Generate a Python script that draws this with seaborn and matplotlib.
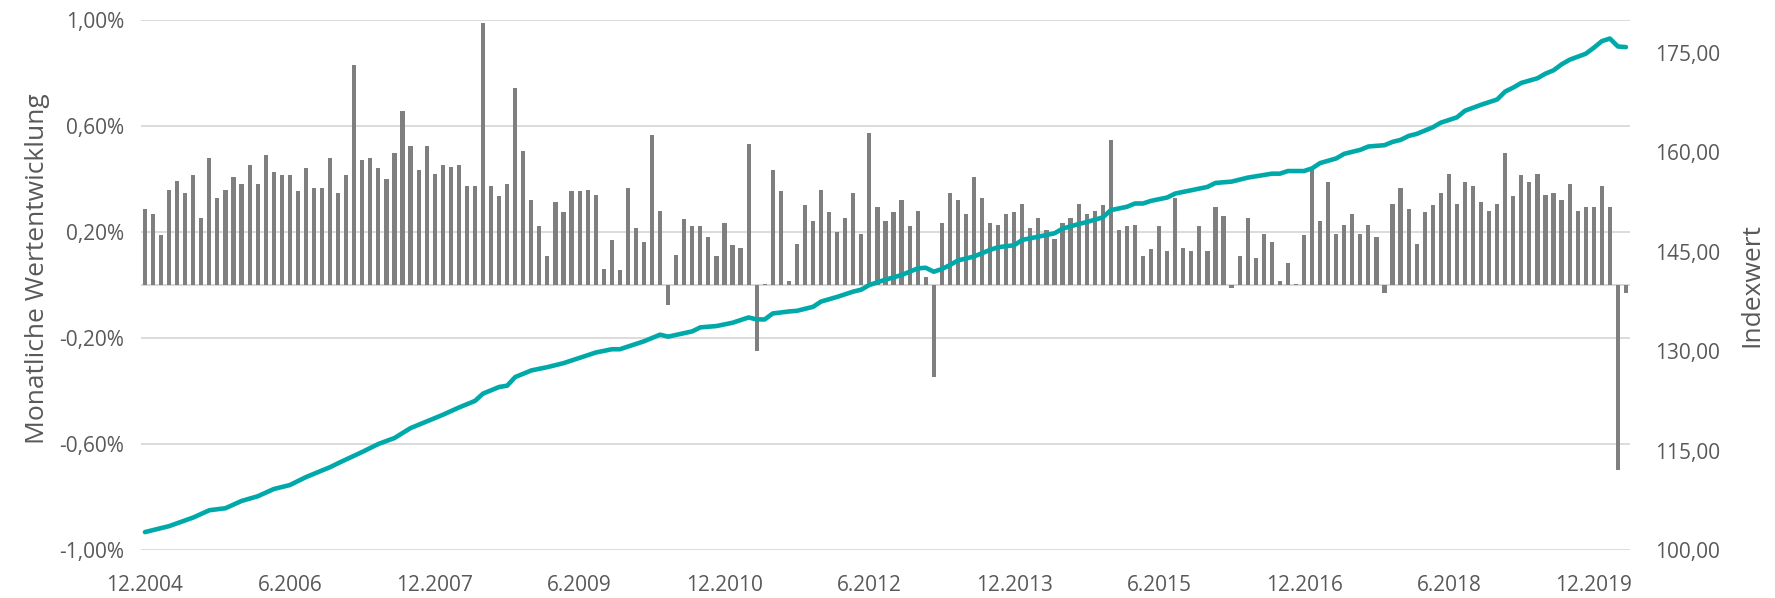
import numpy as np
import pandas as pd
import matplotlib
matplotlib.use("Agg")
import matplotlib.pyplot as plt
from matplotlib.ticker import FuncFormatter, FixedLocator
import seaborn as sns

# monthly returns in %, 12.2004 .. 4.2020
monthly_returns = [
    0.287, 0.268, 0.188, 0.360, 0.393, 0.348, 0.414, 0.253, 0.481, 0.327,
    0.360, 0.407, 0.380, 0.453, 0.380, 0.492, 0.427, 0.414, 0.414, 0.354,
    0.441, 0.366, 0.366, 0.481, 0.348, 0.414, 0.831, 0.472, 0.481, 0.441,
    0.400,
    0.499, 0.657, 0.526, 0.433, 0.526, 0.419, 0.453, 0.446, 0.453, 0.374,
    0.374, 0.990, 0.374, 0.334, 0.380, 0.744, 0.506, 0.321, 0.222, 0.108,
    0.315, 0.275, 0.354, 0.354, 0.360, 0.340, 0.062, 0.168, 0.055, 0.366,
    0.214,
    0.162, 0.567, 0.281, -0.076, 0.115, 0.248, 0.222, 0.222, 0.181, 0.108,
    0.234, 0.149, 0.141, 0.533, -0.250, 0.003, 0.433, 0.354, 0.015, 0.155,
    0.301, 0.241, 0.360, 0.275, 0.200, 0.254, 0.348, 0.194, 0.573, 0.293,
    0.241,
    0.275, 0.321, 0.222, 0.281, 0.029, -0.348, 0.234, 0.348, 0.321, 0.268,
    0.407, 0.327, 0.234, 0.228, 0.268, 0.275, 0.307, 0.214, 0.254, 0.208,
    0.175, 0.234, 0.254, 0.307, 0.268, 0.281, 0.301, 0.547, 0.208, 0.222,
    0.228,
    0.108, 0.135, 0.222, 0.128, 0.327, 0.141, 0.128, 0.222, 0.128, 0.293,
    0.261, -0.013, 0.108, 0.254, 0.102, 0.194, 0.162, 0.015, 0.082, 0.003,
    0.188, 0.433, 0.241, 0.387, 0.194, 0.228, 0.268, 0.194, 0.228, 0.181,
    -0.029,
    0.307, 0.366, 0.287, 0.155, 0.275, 0.301, 0.348, 0.419, 0.307, 0.387,
    0.374, 0.315, 0.281, 0.307, 0.499, 0.334, 0.414, 0.387, 0.419, 0.340,
    0.348, 0.321, 0.380, 0.281, 0.293, 0.293, 0.374, 0.293, -0.700, -0.029,
]

# index value (month position -> value)
index_months = [
    0, 3, 6, 8, 10, 12, 14, 16, 18, 20, 21, 23, 24, 27, 29, 31, 33, 35, 37, 39,
    41, 42, 44, 45, 46, 48, 50, 52, 54, 56, 58, 59, 61, 62, 64, 65, 68, 69, 71, 73,
    75, 76, 77, 78, 80, 81, 83, 84, 86, 88, 89, 90, 92, 94, 96, 97, 98, 99, 100, 101,
    103, 104, 105, 106, 108, 109, 111, 113, 114, 116, 117, 119, 120, 122, 123, 124, 125, 127, 128, 130,
    132, 133, 135, 137, 139, 140, 141, 142, 144, 145, 146, 148, 149, 151, 152, 154, 155, 156, 157, 158,
    160, 161, 163, 164, 166, 168, 169, 170, 171, 173, 174, 175, 176, 177, 179, 180, 181, 182, 183, 184,
]
index_values = [
    102.7, 103.6, 104.9, 106.0, 106.3, 107.4, 108.1, 109.2, 109.8, 111.0, 111.5, 112.5, 113.1, 114.8, 116.0, 116.9, 118.4, 119.4, 120.4, 121.5,
    122.5, 123.6, 124.6, 124.8, 126.1, 127.1, 127.6, 128.2, 129.0, 129.8, 130.3, 130.3, 131.1, 131.5, 132.5, 132.2, 133.0, 133.6, 133.8, 134.3,
    135.1, 134.8, 134.8, 135.7, 136.0, 136.1, 136.7, 137.5, 138.2, 139.0, 139.3, 140.0, 140.8, 141.5, 142.5, 142.6, 142.0, 142.4, 143.0, 143.7,
    144.3, 144.8, 145.3, 145.7, 146.0, 146.8, 147.3, 147.8, 148.5, 149.2, 149.5, 150.2, 151.3, 151.8, 152.3, 152.3, 152.7, 153.2, 153.8, 154.3,
    154.8, 155.4, 155.6, 156.2, 156.6, 156.8, 156.8, 157.2, 157.2, 157.6, 158.4, 159.1, 159.8, 160.4, 160.9, 161.1, 161.6, 161.9, 162.5, 162.8,
    163.8, 164.5, 165.3, 166.3, 167.2, 168.0, 169.2, 169.8, 170.5, 171.2, 171.9, 172.4, 173.3, 174.0, 174.9, 175.8, 176.8, 177.2, 176.0, 175.9,
]

tick_labels = ["12.2004", "6.2006", "12.2007", "6.2009", "12.2010", "6.2012",
               "12.2013", "6.2015", "12.2016", "6.2018", "12.2019"]

bar_color = "#7f7f7f"
line_color = "#00a9a9"
text_color = "#595959"
grid_color = "#d9d9d9"

sns.set_theme(style="white")
plt.rcParams["font.family"] = ["Open Sans", "DejaVu Sans"]

df_bars = pd.DataFrame({"month": np.arange(len(monthly_returns)), "ret": monthly_returns})
df_line = pd.DataFrame({"month": index_months, "value": index_values})

fig = plt.figure(figsize=(17.75, 5.98), dpi=100)
ax = fig.add_axes([0.0794, 0.0803, 0.8389, 0.8863])

sns.barplot(data=df_bars, x="month", y="ret", color=bar_color, width=0.52,
            native_scale=True, saturation=1, linewidth=0, ax=ax)
ax.set_xlim(-0.5, len(monthly_returns) - 0.5)
ax.set_ylim(-1.0, 1.0)
ax.yaxis.set_major_locator(FixedLocator([-1.0, -0.6, -0.2, 0.2, 0.6, 1.0]))
ax.yaxis.set_major_formatter(FuncFormatter(lambda v, p: f"{v:.2f}%".replace(".", ",")))
ax.grid(axis="y", color=grid_color, linewidth=1.3)
ax.set_axisbelow(True)
ax.axhline(0, color=grid_color, linewidth=1.5, zorder=0.5)
ax.set_xticks(np.arange(0, len(monthly_returns), 18))
ax.set_xticklabels(tick_labels)
ax.tick_params(axis="x", length=0, pad=18, labelsize=15, labelcolor=text_color)
ax.tick_params(axis="y", length=0, pad=12, labelsize=15, labelcolor=text_color)
ax.set_xlabel("")
ax.set_ylabel("Monatliche Wertentwicklung", fontsize=19, color=text_color, labelpad=12)
ax.yaxis.set_label_coords(-0.061, 0.53)
for s in ax.spines.values():
    s.set_visible(False)

ax2 = ax.twinx()
sns.lineplot(data=df_line, x="month", y="value", color=line_color, linewidth=3.3, ax=ax2)
ax2.set_ylim(100, 180)
ax2.yaxis.set_major_locator(FixedLocator([100, 115, 130, 145, 160, 175]))
ax2.yaxis.set_major_formatter(FuncFormatter(lambda v, p: f"{v:.2f}".replace(".", ",")))
ax2.tick_params(axis="y", length=0, pad=18, labelsize=15, labelcolor=text_color)
ax2.set_ylabel("Indexwert", fontsize=19, color=text_color, labelpad=14)
ax2.grid(False)
for s in ax2.spines.values():
    s.set_visible(False)

fig.savefig("out.png", dpi=100)
